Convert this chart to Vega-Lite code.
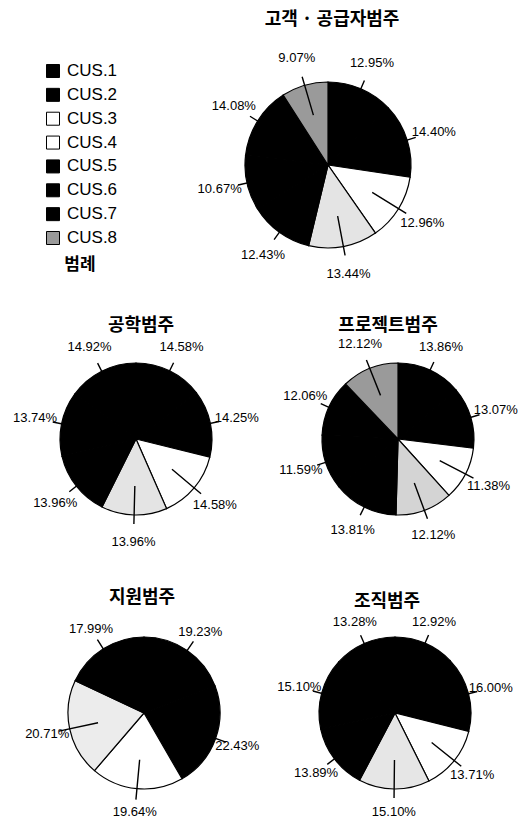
{
  "$schema": "https://vega.github.io/schema/vega-lite/v6.json",
  "background": "white",
  "padding": {"left": 10, "top": 11, "right": 0, "bottom": 0},
  "config": {
    "view": {"stroke": null},
    "font": "Liberation Sans",
    "title": {"font": "Noto Sans CJK KR", "fontSize": 18, "fontWeight": "bold", "anchor": "middle", "baseline": "bottom", "frame": "group", "color": "black"}
  },
  "datasets": {
    "legend": [{"cus": "CUS.1"}, {"cus": "CUS.2"}, {"cus": "CUS.3"}, {"cus": "CUS.4"}, {"cus": "CUS.5"}, {"cus": "CUS.6"}, {"cus": "CUS.7"}, {"cus": "CUS.8"}],
    "c1": [{"cus": "CUS.1", "share": 0.1295}, {"cus": "CUS.2", "share": 0.1440}, {"cus": "CUS.3", "share": 0.1296}, {"cus": "CUS.4", "share": 0.1344}, {"cus": "CUS.5", "share": 0.1243}, {"cus": "CUS.6", "share": 0.1067}, {"cus": "CUS.7", "share": 0.1408}, {"cus": "CUS.8", "share": 0.0907}],
    "c2": [{"cus": "CUS.1", "share": 0.1458}, {"cus": "CUS.2", "share": 0.1425}, {"cus": "CUS.3", "share": 0.1458}, {"cus": "CUS.4", "share": 0.1396}, {"cus": "CUS.5", "share": 0.1396}, {"cus": "CUS.6", "share": 0.1374}, {"cus": "CUS.7", "share": 0.1492}],
    "c3": [{"cus": "CUS.1", "share": 0.1386}, {"cus": "CUS.2", "share": 0.1307}, {"cus": "CUS.3", "share": 0.1138}, {"cus": "CUS.4", "share": 0.1212}, {"cus": "CUS.5", "share": 0.1381}, {"cus": "CUS.6", "share": 0.1159}, {"cus": "CUS.7", "share": 0.1206}, {"cus": "CUS.8", "share": 0.1212}],
    "c4": [{"cus": "CUS.1", "share": 0.1923}, {"cus": "CUS.2", "share": 0.2243}, {"cus": "CUS.3", "share": 0.1964}, {"cus": "CUS.4", "share": 0.2071}, {"cus": "CUS.5", "share": 0.1799}],
    "c5": [{"cus": "CUS.1", "share": 0.1292}, {"cus": "CUS.2", "share": 0.1600}, {"cus": "CUS.3", "share": 0.1371}, {"cus": "CUS.4", "share": 0.1510}, {"cus": "CUS.5", "share": 0.1389}, {"cus": "CUS.6", "share": 0.1510}, {"cus": "CUS.7", "share": 0.1328}]
  },
  "bounds": "flush",
  "columns": 2,
  "spacing": {"row": 86, "column": 0},
  "resolve": {"scale": {"theta": "independent", "color": "independent", "fill": "independent", "y": "independent"}},
  "concat": [
    {
      "width": 86, "height": 167,
      "data": {"name": "legend"},
      "title": {"text": "범례", "orient": "bottom", "baseline": "top", "offset": 10, "dx": 27, "fontSize": 17},
      "encoding": {"y": {"field": "cus", "type": "nominal", "scale": {"type": "point", "padding": 0}, "axis": null}},
      "layer": [
        {"mark": {"type": "square", "size": 169, "filled": true, "stroke": "black", "strokeWidth": 1, "opacity": 1},
         "encoding": {"fill": {"field": "cus", "type": "nominal", "legend": null,
           "scale": {"domain": ["CUS.1","CUS.2","CUS.3","CUS.4","CUS.5","CUS.6","CUS.7","CUS.8"], "range": ["#000000","#000000","#ffffff","#ffffff","#000000","#000000","#000000","#9a9a9a"]}}}},
        {"mark": {"type": "text", "align": "left", "baseline": "middle", "dx": 14, "fontSize": 17, "color": "black"},
         "encoding": {"text": {"field": "cus"}}}
      ]
    },
    {
      "width": 100, "height": 188,
      "data": {"name": "c1"},
      "title": {"text": "고객 · 공급자범주", "offset": 23, "dx": 4},
      "encoding": {"theta": {"field": "share", "type": "quantitative", "stack": true}, "order": {"field": "cus", "sort": "ascending"}},
      "layer": [
        {"mark": {"type": "arc", "outerRadius": 83, "stroke": "black", "strokeWidth": 1.2},
         "encoding": {"color": {"field": "cus", "type": "nominal", "legend": null,
           "scale": {"domain": ["CUS.1","CUS.2","CUS.3","CUS.4","CUS.5","CUS.6","CUS.7","CUS.8"], "range": ["#000000","#000000","#ffffff","#e4e4e4","#000000","#000000","#000000","#9a9a9a"]}}}},
        {"mark": {"type": "arc", "innerRadius": 52, "outerRadius": 92, "padAngle": 3, "filled": false, "color": "black", "strokeWidth": 1.4}},
        {"mark": {"type": "text", "radius": 111, "fontSize": 13, "color": "black"},
         "encoding": {"text": {"field": "share", "type": "quantitative", "format": ".2%"}}}
      ]
    },
    {
      "width": 252, "height": 188,
      "data": {"name": "c2"},
      "title": {"text": "공학범주", "offset": 6, "dx": 5},
      "encoding": {"theta": {"field": "share", "type": "quantitative", "stack": true}, "order": {"field": "cus", "sort": "ascending"}},
      "layer": [
        {"mark": {"type": "arc", "outerRadius": 76, "stroke": "black", "strokeWidth": 1.2},
         "encoding": {"color": {"field": "cus", "type": "nominal", "legend": null,
           "scale": {"domain": ["CUS.1","CUS.2","CUS.3","CUS.4","CUS.5","CUS.6","CUS.7","CUS.8"], "range": ["#000000","#000000","#ffffff","#e4e4e4","#000000","#000000","#000000","#9a9a9a"]}}}},
        {"mark": {"type": "arc", "innerRadius": 47, "outerRadius": 85, "padAngle": 3, "filled": false, "color": "black", "strokeWidth": 1.4}},
        {"mark": {"type": "text", "radius": 103, "fontSize": 13, "color": "black"},
         "encoding": {"text": {"field": "share", "type": "quantitative", "format": ".2%"}}}
      ]
    },
    {
      "width": 240, "height": 188,
      "data": {"name": "c3"},
      "title": {"text": "프로젝트범주", "offset": 3, "dx": -10},
      "encoding": {"theta": {"field": "share", "type": "quantitative", "stack": true}, "order": {"field": "cus", "sort": "ascending"}},
      "layer": [
        {"mark": {"type": "arc", "outerRadius": 76, "stroke": "black", "strokeWidth": 1.2},
         "encoding": {"color": {"field": "cus", "type": "nominal", "legend": null,
           "scale": {"domain": ["CUS.1","CUS.2","CUS.3","CUS.4","CUS.5","CUS.6","CUS.7","CUS.8"], "range": ["#000000","#000000","#ffffff","#d4d4d4","#000000","#000000","#000000","#9a9a9a"]}}}},
        {"mark": {"type": "arc", "innerRadius": 47, "outerRadius": 85, "padAngle": 3, "filled": false, "color": "black", "strokeWidth": 1.4}},
        {"mark": {"type": "text", "radius": 102, "fontSize": 13, "color": "black"},
         "encoding": {"text": {"field": "share", "type": "quantitative", "format": ".2%"}}}
      ]
    },
    {
      "width": 268, "height": 188,
      "data": {"name": "c4"},
      "title": {"text": "지원범주", "offset": 12, "dx": -2},
      "encoding": {"theta": {"field": "share", "type": "quantitative", "stack": true}, "order": {"field": "cus", "sort": "ascending"}},
      "layer": [
        {"mark": {"type": "arc", "outerRadius": 76, "stroke": "black", "strokeWidth": 1.2},
         "encoding": {"color": {"field": "cus", "type": "nominal", "legend": null,
           "scale": {"domain": ["CUS.1","CUS.2","CUS.3","CUS.4","CUS.5","CUS.6","CUS.7","CUS.8"], "range": ["#000000","#000000","#ffffff","#ececec","#000000","#000000","#000000","#9a9a9a"]}}}},
        {"mark": {"type": "arc", "innerRadius": 47, "outerRadius": 87, "padAngle": 3, "filled": false, "color": "black", "strokeWidth": 1.4}},
        {"mark": {"type": "text", "radius": 99, "fontSize": 13, "color": "black"},
         "encoding": {"text": {"field": "share", "type": "quantitative", "format": ".2%"}}}
      ]
    },
    {
      "width": 234, "height": 188,
      "data": {"name": "c5"},
      "title": {"text": "조직범주", "offset": 5, "dx": -8},
      "encoding": {"theta": {"field": "share", "type": "quantitative", "stack": true}, "order": {"field": "cus", "sort": "ascending"}},
      "layer": [
        {"mark": {"type": "arc", "outerRadius": 76, "stroke": "black", "strokeWidth": 1.2},
         "encoding": {"color": {"field": "cus", "type": "nominal", "legend": null,
           "scale": {"domain": ["CUS.1","CUS.2","CUS.3","CUS.4","CUS.5","CUS.6","CUS.7","CUS.8"], "range": ["#000000","#000000","#ffffff","#e6e6e6","#000000","#000000","#000000","#9a9a9a"]}}}},
        {"mark": {"type": "arc", "innerRadius": 47, "outerRadius": 85, "padAngle": 3, "filled": false, "color": "black", "strokeWidth": 1.4}},
        {"mark": {"type": "text", "radius": 99, "fontSize": 13, "color": "black"},
         "encoding": {"text": {"field": "share", "type": "quantitative", "format": ".2%"}}}
      ]
    }
  ]
}
